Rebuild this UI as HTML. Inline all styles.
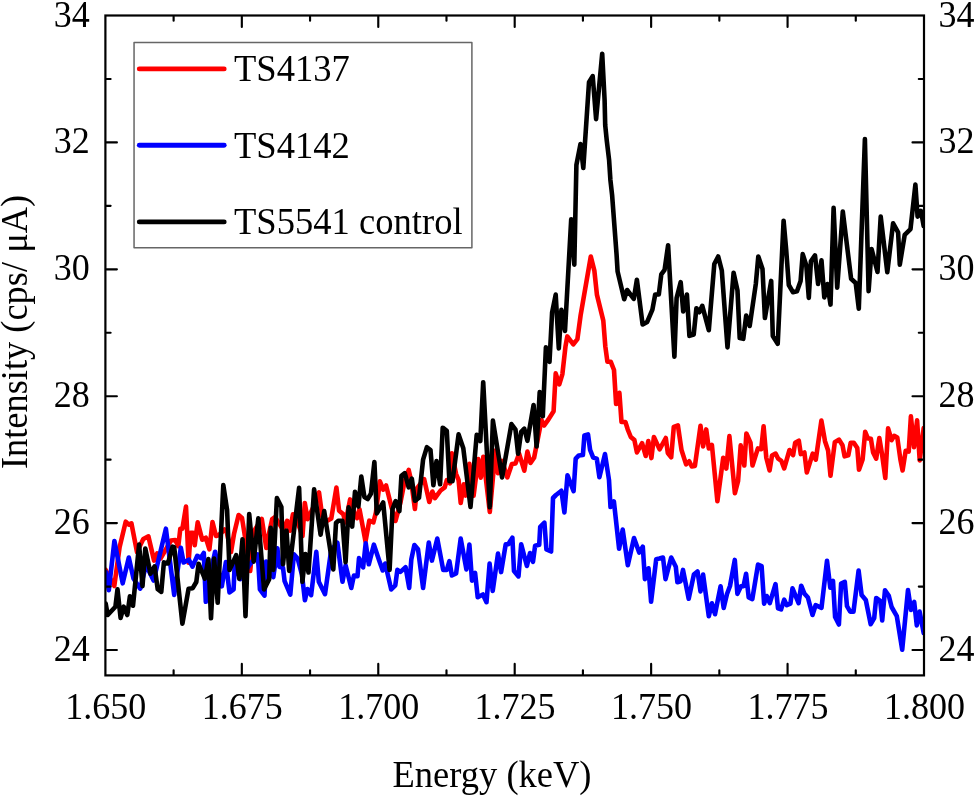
<!DOCTYPE html>
<html><head><meta charset="utf-8"><style>html,body{margin:0;padding:0;background:#fff;width:975px;height:796px;overflow:hidden}svg{display:block;will-change:transform}text{font-family:"Liberation Serif",serif}</style></head>
<body><svg width="975" height="796" viewBox="0 0 975 796">
<rect width="975" height="796" fill="#fff"/>
<defs><clipPath id="cp"><rect x="105.4" y="15.5" width="818.60" height="659.90"/></clipPath></defs>
<g clip-path="url(#cp)"><path d="M105.7 570.0L110.0 578.0L114.3 586.0L119.6 547.3L125.7 521.7L128.8 524.6L131.4 523.3L137.0 552.0L143.3 539.0L148.4 536.4L154.1 560.6L157.2 553.4L160.5 558.6L171.0 540.5L175.2 540.0L178.3 546.2L180.3 528.7L182.4 528.7L186.0 506.5L188.6 562.7L190.6 532.8L193.2 532.8L194.7 545.2L197.7 522.3L202.2 539.7L205.8 537.7L209.4 549.3L212.5 522.1L216.0 536.0L219.0 535.0L224.6 529.5L226.5 531.0L231.0 552.0L234.0 534.0L238.6 515.0L242.0 518.0L245.5 540.0L250.2 571.0L254.0 531.0L261.8 519.0L266.3 548.0L269.3 532.2L272.2 519.1L275.0 517.0L283.1 529.8L287.2 520.8L290.0 530.7L292.9 514.3L297.5 522.0L302.5 536.0L304.8 503.0L307.6 519.2L313.0 508.0L319.0 492.3L322.3 516.8L327.2 520.8L331.3 518.4L336.4 487.5L339.1 510.8L343.2 514.1L345.6 522.3L350.1 499.4L354.0 512.0L357.1 518.2L359.5 509.2L365.5 541.5L369.3 520.7L373.4 522.3L375.9 512.5L379.9 481.4L383.2 489.6L386.1 485.5L391.4 506.8L395.5 521.0L400.4 502.7L404.4 482.3L408.7 469.9L411.0 480.0L414.9 509.0L416.9 488.4L424.1 479.1L429.3 502.0L432.4 491.5L435.0 498.2L440.6 490.5L444.7 487.4L446.8 480.2L449.9 483.3L451.9 453.4L456.1 474.0L458.6 480.2L460.7 503.0L463.8 484.3L465.8 495.6L469.4 463.7L473.6 495.6L478.2 459.1L480.8 477.6L483.3 456.7L489.8 512.0L495.4 450.6L498.0 473.3L502.1 460.9L507.3 477.4L511.9 464.0L515.5 463.5L519.1 453.7L524.3 470.7L527.4 451.6L530.5 463.0L534.1 457.8L541.5 420.0L544.2 425.5L548.5 419.4L553.6 411.2L555.7 373.4L559.3 384.4L562.4 374.1L565.5 346.3L567.3 336.4L573.3 344.3L577.4 339.1L580.6 315.4L590.8 256.5L594.4 270.9L596.9 294.6L603.3 320.6L605.3 346.3L607.4 361.7L610.7 361.7L614.0 370.0L616.1 404.0L619.4 392.8L621.5 422.0L625.4 422.0L627.7 429.3L630.8 437.0L634.4 440.1L636.9 452.4L642.1 443.2L645.7 456.0L648.3 441.1L651.4 458.1L653.9 437.0L659.6 449.4L665.8 438.0L667.8 453.0L671.2 457.2L673.8 426.8L677.9 425.3L681.5 450.0L686.1 464.4L689.2 461.3L691.8 466.5L694.9 466.0L700.5 425.8L703.1 446.4L706.2 429.4L708.8 448.5L711.9 444.9L717.4 501.2L723.2 457.7L726.3 468.6L729.4 436.1L734.9 493.2L738.1 480.9L740.7 445.4L744.3 465.5L746.4 433.5L750.5 442.8L752.5 465.5L757.9 448.4L761.2 449.2L763.6 426.3L766.3 457.7L769.6 470.5L772.0 455.6L775.6 453.6L778.2 458.7L781.3 460.8L784.2 468.4L789.5 450.0L793.1 455.1L795.2 442.7L798.8 440.7L800.8 454.1L804.4 452.5L806.8 472.5L812.7 453.6L815.8 459.7L821.4 420.6L825.0 441.2L828.1 450.5L830.5 475.8L834.8 442.2L838.9 439.6L842.5 445.3L844.6 456.3L848.3 455.3L850.7 442.8L853.8 442.8L857.3 448.1L859.0 469.7L862.6 459.5L865.2 431.8L867.9 438.4L870.9 438.8L873.1 452.5L876.2 458.6L879.3 438.0L881.9 453.3L885.3 478.0L888.1 428.3L891.6 440.2L894.2 435.8L897.3 437.5L900.4 459.5L902.6 470.5L905.7 450.7L908.7 451.6L910.9 416.4L914.0 447.2L917.1 420.4L919.7 460.4L923.7 428.0" fill="none" stroke="#ff0000" stroke-width="4.6" stroke-linejoin="round" stroke-linecap="round"/>
<path d="M105.7 572.0L108.8 590.2L114.4 541.0L122.7 583.3L128.8 557.6L133.5 578.5L140.2 588.7L146.0 565.0L153.6 580.5L165.9 528.7L174.2 594.9L180.8 547.7L183.6 562.5L188.8 559.7L192.5 566.6L197.3 555.8L200.7 558.0L203.8 552.9L205.8 601.8L210.0 575.0L215.1 551.8L221.8 586.3L225.9 562.1L229.5 592.5L233.6 589.4L234.7 563.7L240.3 579.1L249.6 564.7L257.8 554.4L259.9 589.4L264.5 595.6L266.1 561.6L273.3 577.1L277.4 548.2L279.4 566.8L283.0 567.8L284.6 581.2L290.3 594.6L293.9 554.4L297.7 558.6L302.0 575.0L304.9 600.3L307.5 589.0L311.1 595.2L316.3 551.9L318.8 581.8L325.0 594.2L331.2 549.9L337.4 542.7L342.5 581.8L345.6 565.3L351.3 588.0L353.9 575.6L357.5 576.1L359.0 558.1L363.1 567.4L365.7 543.2L368.8 564.3L373.9 544.7L379.1 560.2L382.7 570.5L385.2 563.5L391.2 589.4L395.3 585.3L397.4 569.9L400.4 571.9L405.6 567.3L409.2 587.9L411.3 559.6L414.4 545.1L418.0 549.3L423.1 587.9L428.8 542.6L431.9 560.6L437.3 538.6L443.2 569.9L446.8 569.9L449.4 561.1L451.9 575.5L456.1 573.5L460.7 538.6L466.4 569.4L469.4 544.6L472.0 580.7L475.1 573.0L477.7 597.2L482.9 594.5L486.5 602.2L489.6 563.6L492.7 590.9L498.0 553.6L501.1 572.1L505.7 544.3L508.3 544.3L512.4 537.6L514.0 571.1L518.5 576.4L521.2 544.3L526.9 566.0L530.0 553.0L533.0 561.8L535.1 545.8L539.2 544.8L540.2 526.8L544.4 522.7L546.4 549.4L551.1 551.5L553.0 498.0L556.0 495.0L561.4 490.8L564.4 512.4L567.5 475.3L573.6 491.1L575.7 458.6L578.8 455.5L582.9 455.0L584.4 435.4L588.0 434.4L590.1 449.9L593.2 457.6L596.8 458.6L599.4 477.2L605.0 454.0L609.0 480.0L610.5 507.0L613.9 501.5L619.1 548.7L622.7 529.6L627.8 565.2L634.0 538.0L639.2 552.6L642.8 546.7L644.9 579.1L648.5 568.3L651.1 601.8L656.2 559.3L659.4 558.5L663.0 557.5L665.5 579.1L671.2 557.5L675.8 566.8L677.4 582.2L680.5 581.2L683.0 569.9L688.7 598.7L693.9 574.5L697.5 571.4L700.5 591.5L703.1 574.5L708.8 616.2L711.9 603.3L715.0 614.2L720.6 586.3L723.7 608.0L727.0 594.0L730.0 586.0L734.8 559.9L737.4 593.9L741.0 586.2L743.5 586.2L746.1 573.8L748.7 597.5L752.3 599.1L758.0 564.6L761.6 566.1L764.1 603.7L766.7 596.0L769.8 603.2L775.5 584.1L778.0 608.3L781.1 609.4L784.2 599.6L786.8 605.2L790.4 603.7L792.5 588.3L798.6 603.2L801.2 585.7L804.3 593.4L807.9 597.5L812.5 615.0L815.6 605.2L821.5 607.8L827.0 560.8L830.3 587.8L833.0 580.8L835.1 617.0L838.9 624.5L841.1 583.5L844.8 581.9L847.0 606.2L850.2 611.6L853.5 611.6L858.6 570.5L861.6 595.0L865.8 600.0L870.7 624.2L874.2 618.0L876.2 598.0L880.2 600.8L882.2 620.5L885.0 590.3L888.8 595.8L891.6 607.0L896.8 616.2L902.2 649.7L908.0 590.0L911.0 610.0L914.2 602.0L916.8 625.4L919.6 611.6L923.7 633.0" fill="none" stroke="#0000ff" stroke-width="4.6" stroke-linejoin="round" stroke-linecap="round"/>
<path d="M105.7 603.6L107.7 615.0L115.4 606.7L117.5 589.2L120.6 618.0L123.7 606.7L127.3 615.0L129.9 596.4L133.0 605.7L139.1 544.6L142.5 586.1L145.3 548.5L150.5 573.7L154.6 566.5L157.7 589.2L161.3 591.8L163.9 562.4L168.0 563.4L172.5 546.7L174.2 547.2L182.4 623.7L188.6 588.7L192.7 588.2L196.3 582.0L198.6 563.7L204.8 578.6L208.4 559.0L211.0 618.3L214.1 558.5L217.7 602.8L223.3 485.0L227.1 510.0L229.5 570.0L236.2 555.2L239.2 578.6L242.5 539.2L245.5 616.2L249.2 514.0L253.7 561.6L258.3 518.4L264.0 589.4L269.2 579.1L270.7 527.9L273.3 569.9L276.9 498.0L281.4 507.0L283.0 564.2L286.5 530.6L289.2 570.9L299.1 487.8L302.4 581.8L305.4 554.0L308.5 572.5L314.1 489.4L320.6 534.6L324.2 511.0L333.3 569.4L336.0 523.0L338.2 520.8L342.4 520.7L345.6 562.2L348.6 507.3L352.2 526.6L355.0 491.7L358.4 506.6L361.3 476.5L364.4 497.0L367.7 499.0L370.9 493.7L374.4 462.1L376.8 513.4L383.2 502.5L389.6 570.0L392.5 509.0L395.6 501.2L399.4 511.0L401.4 475.8L404.8 473.2L408.7 487.4L411.8 478.6L414.9 500.8L419.0 497.7L423.1 459.6L426.9 447.2L430.5 450.0L433.4 485.3L436.5 461.1L440.1 484.3L442.7 427.7L446.8 430.8L449.4 481.2L452.5 481.2L458.6 434.4L463.3 448.2L470.5 507.0L476.7 434.9L480.3 441.1L483.2 382.2L489.8 507.2L492.9 420.5L502.1 477.4L511.4 424.1L515.5 429.7L518.1 453.7L521.2 431.8L524.3 428.7L527.4 440.8L533.6 405.0L536.6 446.5L539.7 392.1L542.8 416.3L545.9 347.4L549.5 361.8L552.1 312.4L555.7 294.6L558.8 348.4L561.4 309.8L565.0 330.9L571.2 219.4L574.3 264.7L576.4 165.0L580.5 144.0L583.3 168.0L589.0 82.3L592.7 76.1L596.1 119.1L602.2 53.7L604.6 100.0L605.2 125.0L606.7 140.0L609.1 160.0L610.4 180.0L612.1 195.0L613.6 215.0L615.1 235.0L616.6 255.0L617.6 271.5L624.2 299.2L627.1 290.0L633.8 298.8L636.9 279.7L642.6 324.5L647.2 321.9L652.4 309.6L655.2 294.5L658.8 294.5L661.3 274.3L664.6 269.8L668.1 245.2L674.4 356.7L676.6 298.0L680.7 282.2L683.2 311.5L686.9 294.5L689.4 335.9L693.7 334.5L696.4 308.2L699.3 312.2L702.3 305.8L708.8 330.2L714.3 264.0L718.2 256.5L721.8 270.5L727.5 347.4L733.6 272.7L737.5 290.6L739.7 338.1L743.3 338.8L746.2 315.6L749.7 326.0L755.8 284.0L758.3 256.5L762.5 269.1L764.9 318.0L771.2 280.9L772.8 336.0L777.7 343.8L783.6 220.7L786.2 250.0L788.8 285.0L792.9 292.2L797.0 291.2L800.6 280.9L802.7 254.1L806.3 265.4L808.8 297.9L810.9 261.3L815.0 255.4L818.1 284.0L821.5 260.4L824.3 297.4L827.4 284.0L830.5 304.6L833.6 207.9L837.2 287.6L842.8 211.5L851.1 278.8L855.7 283.0L858.8 308.7L864.9 139.0L868.6 291.2L871.6 249.0L877.5 272.0L880.7 216.6L887.3 272.2L893.1 223.3L898.1 232.4L899.8 264.7L904.7 234.9L910.5 229.1L915.4 184.6L917.6 216.6L921.0 211.0L923.7 226.0" fill="none" stroke="#000000" stroke-width="4.6" stroke-linejoin="round" stroke-linecap="round"/></g>
<rect x="105.4" y="15.5" width="818.60" height="659.90" fill="none" stroke="#000" stroke-width="2.2"/><path d="M173.62 674.4V670.1999999999999M173.62 16.5V20.7M241.83 674.4V663.9M241.83 16.5V27.0M310.05 674.4V670.1999999999999M310.05 16.5V20.7M378.27 674.4V663.9M378.27 16.5V27.0M446.48 674.4V670.1999999999999M446.48 16.5V20.7M514.70 674.4V663.9M514.70 16.5V27.0M582.92 674.4V670.1999999999999M582.92 16.5V20.7M651.13 674.4V663.9M651.13 16.5V27.0M719.35 674.4V670.1999999999999M719.35 16.5V20.7M787.57 674.4V663.9M787.57 16.5V27.0M855.78 674.4V670.1999999999999M855.78 16.5V20.7M106.4 650.00H116.9M923.0 650.00H912.5M106.4 586.55H110.60000000000001M923.0 586.55H918.8M106.4 523.10H116.9M923.0 523.10H912.5M106.4 459.65H110.60000000000001M923.0 459.65H918.8M106.4 396.20H116.9M923.0 396.20H912.5M106.4 332.75H110.60000000000001M923.0 332.75H918.8M106.4 269.30H116.9M923.0 269.30H912.5M106.4 205.85H110.60000000000001M923.0 205.85H918.8M106.4 142.40H116.9M923.0 142.40H912.5M106.4 78.95H110.60000000000001M923.0 78.95H918.8" stroke="#000" stroke-width="2.15" fill="none" stroke-linecap="round"/>
<g font-family="Liberation Serif" fill="#000"><text transform="translate(105.80,718.70) scale(1.0,1.07)" text-anchor="middle" font-size="36">1.650</text><text transform="translate(242.23,718.70) scale(1.0,1.07)" text-anchor="middle" font-size="36">1.675</text><text transform="translate(378.67,718.70) scale(1.0,1.07)" text-anchor="middle" font-size="36">1.700</text><text transform="translate(515.10,718.70) scale(1.0,1.07)" text-anchor="middle" font-size="36">1.725</text><text transform="translate(651.53,718.70) scale(1.0,1.07)" text-anchor="middle" font-size="36">1.750</text><text transform="translate(787.97,718.70) scale(1.0,1.07)" text-anchor="middle" font-size="36">1.775</text><text transform="translate(924.40,718.70) scale(1.0,1.07)" text-anchor="middle" font-size="36">1.800</text><text transform="translate(89.70,661.00) scale(1.0,1.07)" text-anchor="end" font-size="36">24</text><text transform="translate(938.60,661.00) scale(1.0,1.07)" text-anchor="start" font-size="36">24</text><text transform="translate(89.70,534.10) scale(1.0,1.07)" text-anchor="end" font-size="36">26</text><text transform="translate(938.60,534.10) scale(1.0,1.07)" text-anchor="start" font-size="36">26</text><text transform="translate(89.70,407.20) scale(1.0,1.07)" text-anchor="end" font-size="36">28</text><text transform="translate(938.60,407.20) scale(1.0,1.07)" text-anchor="start" font-size="36">28</text><text transform="translate(89.70,280.30) scale(1.0,1.07)" text-anchor="end" font-size="36">30</text><text transform="translate(938.60,280.30) scale(1.0,1.07)" text-anchor="start" font-size="36">30</text><text transform="translate(89.70,153.40) scale(1.0,1.07)" text-anchor="end" font-size="36">32</text><text transform="translate(938.60,153.40) scale(1.0,1.07)" text-anchor="start" font-size="36">32</text><text transform="translate(89.70,26.50) scale(1.0,1.07)" text-anchor="end" font-size="36">34</text><text transform="translate(938.60,26.50) scale(1.0,1.07)" text-anchor="start" font-size="36">34</text><text transform="translate(492.00,787.00) scale(1.0145,1.046)" text-anchor="middle" font-size="36">Energy (keV)</text><text transform="translate(27.00,332.00) rotate(-90) scale(1.011,1.03)" text-anchor="middle" font-size="36">Intensity (cps/ &#956;A)</text><rect x="134.05" y="42.55" width="337.85" height="205.15" fill="#fff" stroke="#666" stroke-width="1.5" stroke-linejoin="round"/><path d="M139.3 68.9H224.2" stroke="#ff0000" stroke-width="4.9" stroke-linecap="round"/><text transform="translate(234.00,81.40) scale(1.0166,1.03)" text-anchor="start" font-size="36">TS4137</text><path d="M139.3 145.3H224.2" stroke="#0000ff" stroke-width="4.9" stroke-linecap="round"/><text transform="translate(234.00,157.80) scale(1.0166,1.03)" text-anchor="start" font-size="36">TS4142</text><path d="M139.3 221.9H224.2" stroke="#000" stroke-width="4.9" stroke-linecap="round"/><text transform="translate(234.00,234.40) scale(1.0166,1.03)" text-anchor="start" font-size="36">TS5541 control</text></g>
</svg></body></html>
